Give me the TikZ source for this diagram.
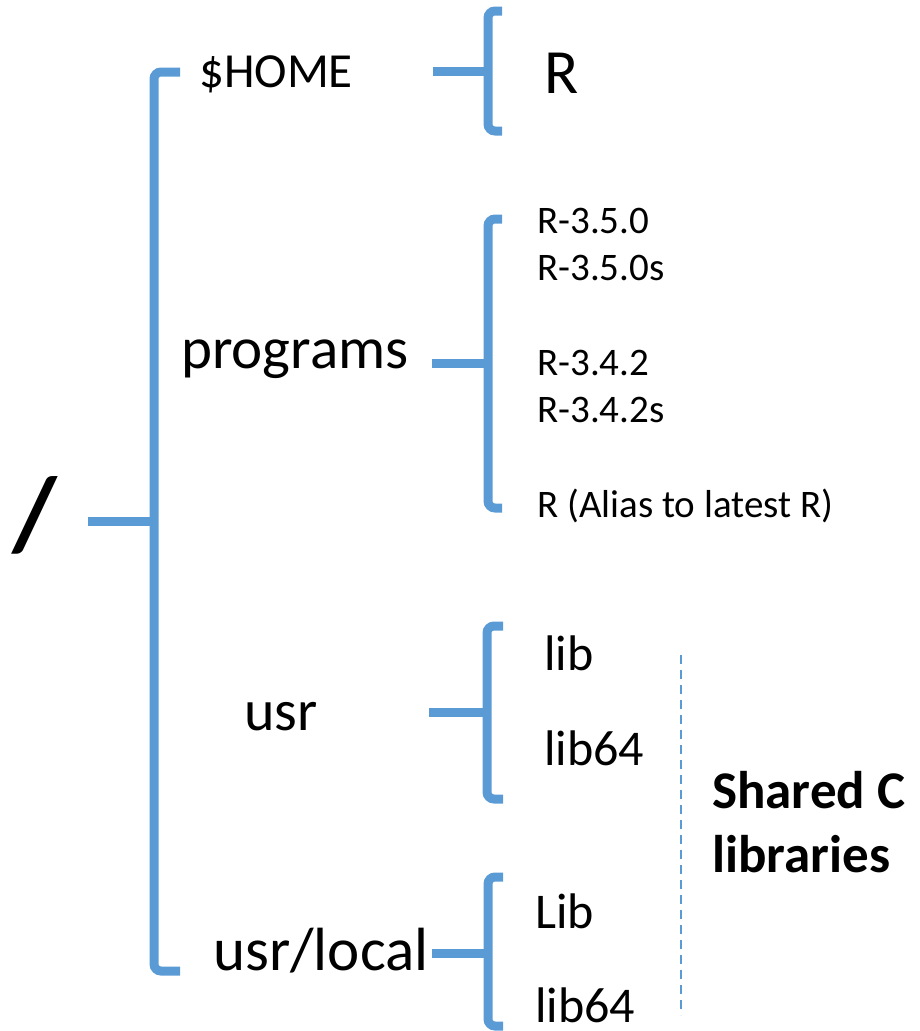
\documentclass[tikz,border=0pt]{standalone}
\usepackage{fontspec}
\setmainfont{Carlito}
\definecolor{brk}{HTML}{5B9BD5}
\tikzset{
  brace/.style={draw=brk, line width=9pt, rounded corners=7pt},
  tick/.style={draw=brk, line width=9pt},
  lbl/.style={anchor=base west, inner sep=0pt, text=black},
  dashline/.style={draw=brk, line width=2.5pt, dash pattern=on 9pt off 6pt}
}
\begin{document}
\begin{tikzpicture}[x=1pt,y=-1pt]
\useasboundingbox (0,0) rectangle (920,1031);
% root
\node[inner sep=0pt] (root) at (35,515) {\fontsize{104}{104}\selectfont\bfseries /};
% main bracket
\coordinate (m0) at (88,521);
\coordinate (m1) at (154,521);
\coordinate (mt) at (180,72);
\coordinate (mb) at (180,971);
\draw[brace] (mt) -- (154,72) -- (154,971) -- (mb);
\draw[tick] (m0) -- (m1);
% labels level 1
\node[lbl] (home) at (199,87) {\fontsize{49}{49}\selectfont \$HOME};
\node[lbl] (prog) at (181,368) {\fontsize{59}{59}\selectfont programs};
\node[lbl] (usr) at (244,730) {\fontsize{58}{58}\selectfont usr};
\node[lbl] (usrl) at (213,970) {\fontsize{61}{61}\selectfont usr/local};
% HOME bracket
\coordinate (h0) at (433,71);
\coordinate (h1) at (488,71);
\draw[brace] (502,11) -- (488,11) -- (488,131) -- (502,131);
\draw[tick] (h0) -- (h1);
\node[lbl] (hr) at (544,93) {\fontsize{63}{63}\selectfont R};
% programs bracket
\coordinate (p0) at (432,363);
\coordinate (p1) at (488,363);
\draw[brace] (502,219) -- (488,219) -- (488,508) -- (502,508);
\draw[tick] (p0) -- (p1);
\node[lbl] (r350) at (537,233) {\fontsize{39}{39}\selectfont R-3.5.0};
\node[lbl] (r350s) at (537,280) {\fontsize{39}{39}\selectfont R-3.5.0s};
\node[lbl] (r342) at (537,375) {\fontsize{39}{39}\selectfont R-3.4.2};
\node[lbl] (r342s) at (537,422) {\fontsize{39}{39}\selectfont R-3.4.2s};
\node[lbl] (ralias) at (537,517) {\fontsize{39}{39}\selectfont R (Alias to latest R)};
% usr bracket
\coordinate (u0) at (429,712);
\coordinate (u1) at (487,712);
\draw[brace] (503,626) -- (487,626) -- (487,799) -- (503,799);
\draw[tick] (u0) -- (u1);
\node[lbl] (ulib) at (544,670) {\fontsize{50}{50}\selectfont lib};
\node[lbl] (ulib64) at (544,765) {\fontsize{50}{50}\selectfont lib64};
% usr/local bracket
\coordinate (l0) at (432,953);
\coordinate (l1) at (488,953);
\draw[brace] (503,877) -- (488,877) -- (488,1026) -- (503,1026);
\draw[tick] (l0) -- (l1);
\node[lbl] (llib) at (535,928) {\fontsize{50}{50}\selectfont Lib};
\node[lbl] (llib64) at (535,1022) {\fontsize{50}{50}\selectfont lib64};
% shared libs
\coordinate (d0) at (681,655);
\coordinate (d1) at (681,1015);
\draw[dashline] (d0) -- (d1);
\node[lbl] (sh1) at (712,808) {\fontsize{53}{53}\selectfont\bfseries Shared C};
\node[lbl] (sh2) at (712,872) {\fontsize{53}{53}\selectfont\bfseries libraries};
\end{tikzpicture}
\end{document}
